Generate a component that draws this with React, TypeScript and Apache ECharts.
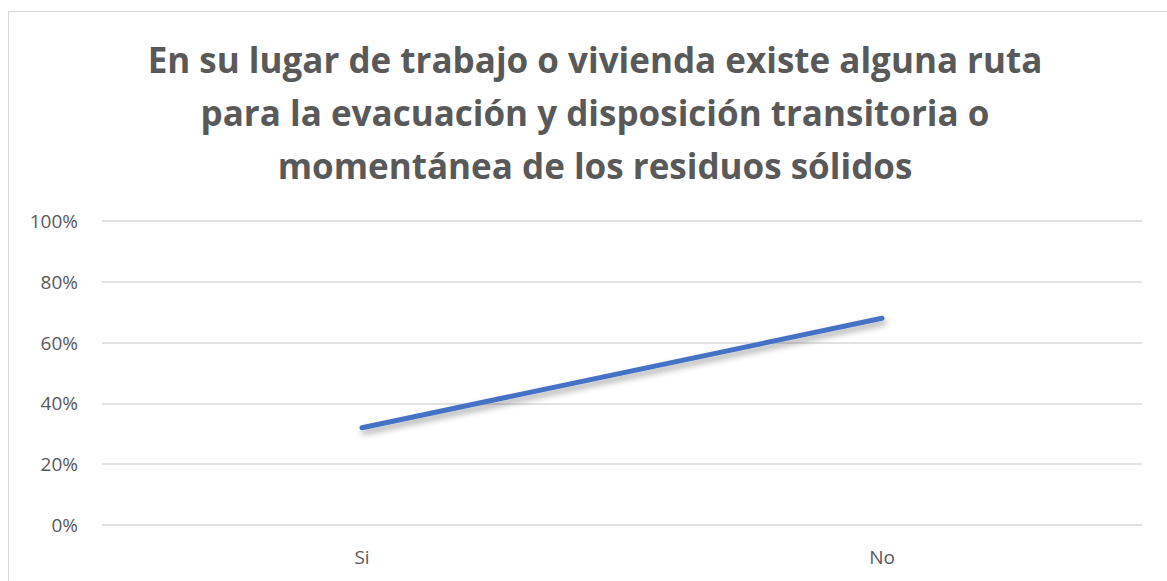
import React, { useEffect, useRef } from "react";
import * as echarts from "echarts";

const titleLines = [
  "En su lugar de trabajo o vivienda existe alguna ruta",
  "para la evacuación y disposición transitoria o",
  "momentánea de los residuos sólidos",
];
const categories = ["Si", "No"];
const values = [32, 68];
const yTicks = { min: 0, max: 100, interval: 20 };

export default function App() {
  const ref = useRef<HTMLDivElement>(null);
  useEffect(() => {
    const chart = echarts.init(ref.current!, undefined, { renderer: "svg" });
    chart.setOption({
      animation: false,
      backgroundColor: "#ffffff",
      title: {
        text: titleLines.join("\n"),
        left: 590,
        textAlign: "center",
        top: 28,
        textStyle: {
          fontFamily: "Open Sans",
          fontWeight: "bold",
          fontSize: 35,
          lineHeight: 53,
          color: "#595959",
        },
      },
      graphic: [
        {
          type: "rect",
          shape: { x: 8.5, y: 11.5, width: 1170, height: 600 },
          style: { fill: "none", stroke: "#d9d9d9", lineWidth: 1 },
          silent: true,
          z: -1,
        },
      ],
      grid: { left: 102, right: 25, top: 221, bottom: 56 },
      xAxis: {
        type: "category",
        data: categories,
        boundaryGap: true,
        axisLine: { show: false },
        axisTick: { show: false },
        axisLabel: {
          color: "#595959",
          fontFamily: "Open Sans",
          fontSize: 19,
          margin: 22,
        },
      },
      yAxis: {
        type: "value",
        min: yTicks.min,
        max: yTicks.max,
        interval: yTicks.interval,
        axisLine: { show: false },
        axisTick: { show: false },
        splitLine: { lineStyle: { color: "#d9d9d9", width: 1.5 } },
        axisLabel: {
          color: "#595959",
          fontFamily: "Open Sans",
          fontSize: 19,
          margin: 24,
          formatter: "{value}%",
        },
      },
      series: [
        {
          type: "line",
          data: values,
          symbol: "none",
          lineStyle: {
            color: "#4472C4",
            width: 5,
            cap: "round",
            shadowColor: "rgba(0,0,0,0.35)",
            shadowBlur: 6,
            shadowOffsetX: 2,
            shadowOffsetY: 4,
          },
        },
      ],
    });
    return () => chart.dispose();
  }, []);
  return (
    <div
      ref={ref}
      style={{ position: "absolute", left: 0, top: 0, width: 1167, height: 581 }}
    />
  );
}
